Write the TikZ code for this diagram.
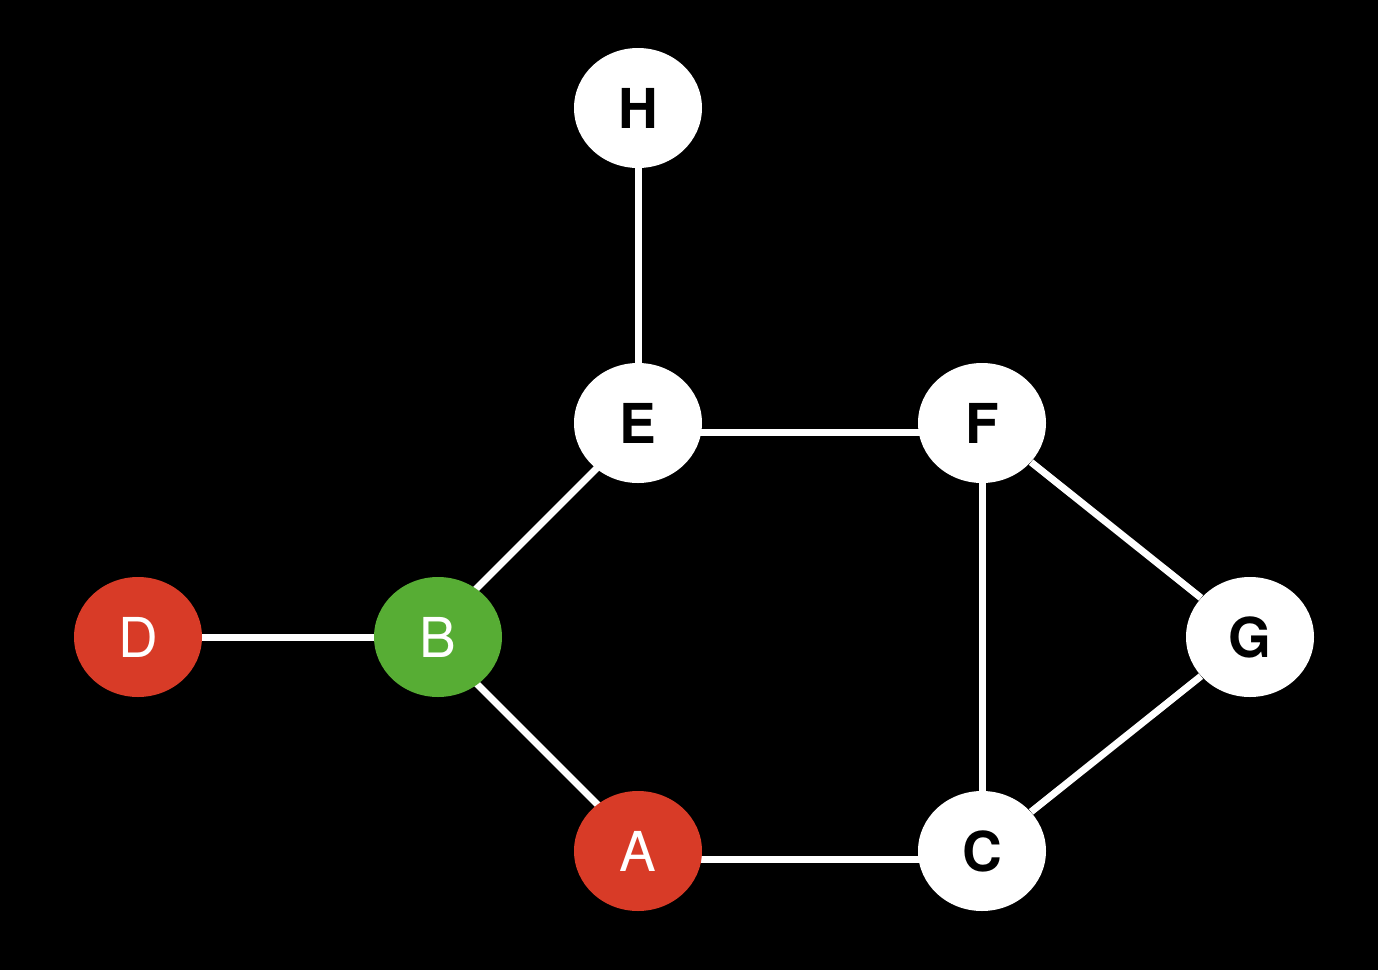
\documentclass[tikz,border=0pt]{standalone}
\usepackage{fontspec}
\setmainfont{TeX Gyre Heros}
\usetikzlibrary{shapes.geometric,backgrounds}
\definecolor{nodered}{HTML}{D83B27}
\definecolor{nodegreen}{HTML}{57AD34}

\begin{document}
\begin{tikzpicture}[x=0.5pt,y=-0.5pt,
  vert/.style={ellipse,inner sep=0pt,minimum width=64pt,minimum height=60pt,
    font=\fontsize{27.5}{30}\selectfont},
  plain/.style={vert,fill=white,text=black,font=\fontsize{27.5}{30}\selectfont\bfseries},
  marked/.style={vert,text=white},
  edge/.style={draw=white,line width=3.5pt}]
% Vertices at pixel positions; canvas and edges go on the background layer.
\node[plain] (H) at (638,108) {H};
\node[plain] (E) at (638,423) {E};
\node[plain] (F) at (982,423) {F};
\node[marked,fill=nodered] (D) at (138,637) {D};
\node[marked,fill=nodegreen] (B) at (438,637) {B};
\node[plain] (G) at (1250,637) {G};
\node[marked,fill=nodered] (A) at (638,851) {A};
\node[plain] (C) at (982,851) {C};
\begin{scope}[on background layer]
  \fill[black] (0,0) rectangle (1378,970);
  \draw[edge] (H) -- (E);
  \draw[edge] ([yshift=-4.5pt]E.center) -- ([yshift=-4.5pt]F.center);
  \draw[edge] ([yshift=5pt]B.center) -- ([yshift=-2pt]E.center);
  \draw[edge] (D) -- (B);
  \draw[edge] ([yshift=-4pt]B.center) -- ([yshift=3pt]A.center);
  \draw[edge] ([yshift=-4pt]A.center) -- ([yshift=-4pt]C.center);
  \draw[edge] (F) -- (C);
  \draw[edge] (F) -- (G);
  \draw[edge] (G) -- (C);
\end{scope}
\end{tikzpicture}
\end{document}
